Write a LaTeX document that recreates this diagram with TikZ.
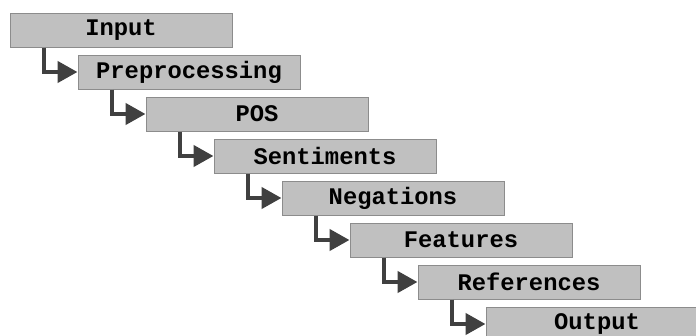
\documentclass[tikz,border=0pt]{standalone}
\usepackage{fontspec}
\setmonofont{Liberation Mono}
\usetikzlibrary{arrows.meta,calc}
\definecolor{stagefill}{HTML}{C0C0C0}
\definecolor{stageline}{HTML}{8C8C8C}
\definecolor{linkcol}{HTML}{404040}
\tikzset{stage/.style={draw=stageline, fill=stagefill, line width=1pt, minimum width=222pt, minimum height=34pt, inner sep=0pt,
                       font=\fontsize{23.8}{26}\selectfont\ttfamily\bfseries},
         link/.style = {draw=linkcol, line width=4.4pt, -{Triangle[length=20pt,width=21pt]}}}
\def\stepx{68pt}
\def\stepy{42pt}
\def\legx{34.5pt}

\begin{document}
\begin{tikzpicture}
\useasboundingbox (0,0) rectangle (696pt,-335pt);
\clip (0,0) rectangle (696pt,-335pt);
\node (input) [stage] at (121pt,-30pt) {Input};

\path (input)+(\stepx,-\stepy) node (prep) [stage] {Preprocessing};
\path (prep)+(\stepx,-\stepy) node (pos) [stage] {POS};
\path (pos)+(\stepx,-\stepy) node (sent) [stage] {Sentiments};
\path (sent)+(\stepx,-\stepy) node (neg) [stage] {Negations};
\path (neg)+(\stepx,-\stepy) node (feat) [stage] {Features};
\path (feat)+(\stepx,-\stepy) node (refs) [stage] {References};
\path (refs)+(\stepx,-\stepy) node (output) [stage] {Output};

% Draw connections between stages
\draw [link] ([xshift=\legx]input.south west) |- (prep.west);
\draw [link] ([xshift=\legx]prep.south west) |- (pos.west);
\draw [link] ([xshift=\legx]pos.south west) |- (sent.west);
\draw [link] ([xshift=\legx]sent.south west) |- (neg.west);
\draw [link] ([xshift=\legx]neg.south west) |- (feat.west);
\draw [link] ([xshift=\legx]feat.south west) |- (refs.west);
\draw [link] ([xshift=\legx]refs.south west) |- (output.west);
\end{tikzpicture}
\end{document}
